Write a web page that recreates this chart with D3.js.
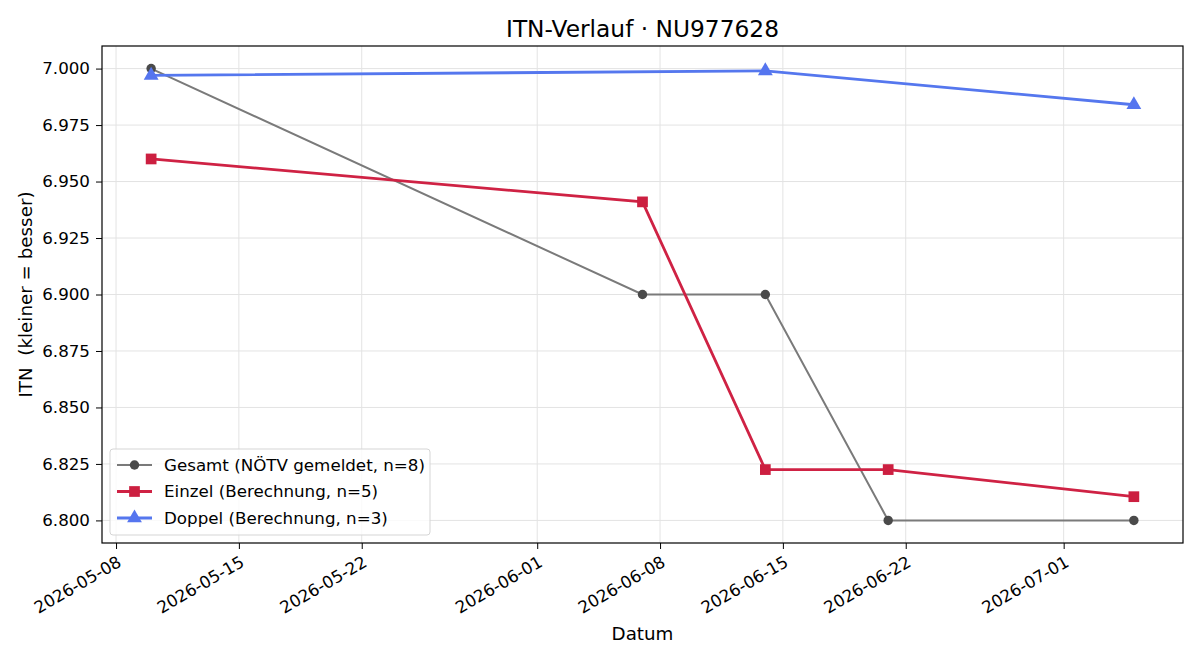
<!DOCTYPE html>
<html>
<head>
<meta charset="utf-8">
<script src="https://cdn.jsdelivr.net/npm/d3@7"></script>
<style>
  body { margin: 0; background: #fff; }
  text { font-family: "DejaVu Sans", sans-serif; }
</style>
</head>
<body>
<div id="chart-area"></div>
<script>
// data
const dates = ["2026-05-10", "2026-06-07", "2026-06-14", "2026-06-21", "2026-07-05"];
const gesamt = [7.000, 6.900, 6.900, 6.800, 6.800];
const einzelDates = ["2026-05-10", "2026-06-07", "2026-06-14", "2026-06-21", "2026-07-05"];
const einzel = [6.960, 6.941, 6.8225, 6.8225, 6.8105];
const doppelDates = ["2026-05-10", "2026-06-14", "2026-07-05"];
const doppel = [6.997, 6.999, 6.984];
const xTicks = ["2026-05-08", "2026-05-15", "2026-05-22", "2026-06-01", "2026-06-08", "2026-06-15", "2026-06-22", "2026-07-01"];
const yTicks = [6.800, 6.825, 6.850, 6.875, 6.900, 6.925, 6.950, 6.975, 7.000];

const parse = d3.timeParse("%Y-%m-%d");
const fmt = d3.timeFormat("%Y-%m-%d");

let margin = {left: 102, right: 17, top: 46, bottom: 117};
let width = 1200 - margin.left - margin.right;
let height = 660 - margin.top - margin.bottom;

let svg = d3.select("#chart-area")
    .append("svg")
    .attr("width", 1200)
    .attr("height", 660);

let g = svg.append("g")
    .attr("transform", "translate(" + margin.left + "," + margin.top + ")");

// matplotlib-like 5% margins
let x0 = parse("2026-05-10"), x1 = parse("2026-07-05");
let span = x1 - x0;
let x = d3.scaleTime()
    .domain([new Date(+x0 - span * 0.05), new Date(+x1 + span * 0.05)])
    .range([0, width]);
let y = d3.scaleLinear()
    .domain([6.79, 7.01])
    .range([height, 0]);

// grid
g.append("g").selectAll("line")
    .data(xTicks.map(parse))
    .enter().append("line")
    .attr("x1", d => x(d)).attr("x2", d => x(d))
    .attr("y1", 0).attr("y2", height)
    .attr("stroke", "#e3e3e3").attr("stroke-width", 1);
g.append("g").selectAll("line")
    .data(yTicks)
    .enter().append("line")
    .attr("y1", d => y(d)).attr("y2", d => y(d))
    .attr("x1", 0).attr("x2", width)
    .attr("stroke", "#e3e3e3").attr("stroke-width", 1);

// x axis
let xAxis = d3.axisBottom(x)
    .tickValues(xTicks.map(parse))
    .tickFormat(fmt)
    .tickSize(6)
    .tickPadding(6);
let xg = g.append("g")
    .attr("class", "x axis")
    .attr("transform", "translate(0," + height + ")")
    .call(xAxis);
xg.select(".domain").remove();
xg.selectAll("line").attr("stroke", "#000");
xg.selectAll("text")
    .attr("font-size", "16.7px")
    .attr("fill", "#000")
    .attr("text-anchor", "end")
    .attr("y", 0)
    .attr("dy", "0.72em")
    .attr("transform", "translate(0,12) rotate(-30)");

// y axis
let yAxis = d3.axisLeft(y)
    .tickValues(yTicks)
    .tickFormat(d3.format(".3f"))
    .tickSize(6)
    .tickPadding(6);
let yg = g.append("g")
    .attr("class", "y axis")
    .call(yAxis);
yg.select(".domain").remove();
yg.selectAll("line").attr("stroke", "#000");
yg.selectAll("text").attr("font-size", "16.7px").attr("fill", "#000");

// frame
g.append("rect")
    .attr("width", width).attr("height", height)
    .attr("fill", "none").attr("stroke", "#000").attr("stroke-width", 1.2);

// labels
svg.append("text")
    .text("ITN-Verlauf · NU977628")
    .attr("x", margin.left + width / 2)
    .attr("y", 37)
    .attr("text-anchor", "middle")
    .attr("font-size", "23.3px");
svg.append("text")
    .text("Datum")
    .attr("x", margin.left + width / 2)
    .attr("y", 640)
    .attr("text-anchor", "middle")
    .attr("font-size", "18.3px");
svg.append("text")
    .text("ITN  (kleiner = besser)")
    .style("white-space", "pre")
    .attr("transform", "translate(32," + (margin.top + height / 2) + ") rotate(-90)")
    .attr("text-anchor", "middle")
    .attr("font-size", "18.3px");

// series
let series = [
    {name: "Gesamt (NÖTV gemeldet, n=8)", d: dates, v: gesamt, line: "#7a7a7a", mark: "#4a4a4a", lw: 2, sym: d3.symbolCircle, size: 70},
    {name: "Einzel (Berechnung, n=5)", d: einzelDates, v: einzel, line: "#cf2244", mark: "#cc1f40", lw: 2.8, sym: d3.symbolSquare, size: 115},
    {name: "Doppel (Berechnung, n=3)", d: doppelDates, v: doppel, line: "#5577ee", mark: "#5575ef", lw: 2.8, sym: d3.symbolTriangle, size: 95}
];

let line = d3.line().x(p => x(p[0])).y(p => y(p[1]));

series.forEach(function(s) {
    let pts = s.d.map((dd, i) => [parse(dd), s.v[i]]);
    g.append("path")
        .datum(pts)
        .attr("d", line)
        .attr("fill", "none")
        .attr("stroke", s.line)
        .attr("stroke-width", s.lw);
    g.selectAll(null)
        .data(pts)
        .enter().append("path")
        .attr("d", d3.symbol().type(s.sym).size(s.size))
        .attr("transform", p => "translate(" + x(p[0]) + "," + y(p[1]) + ")")
        .attr("fill", s.mark);
});

// legend
let lg = svg.append("g").attr("transform", "translate(110,449)");
lg.append("rect")
    .attr("width", 320).attr("height", 86)
    .attr("rx", 3)
    .attr("fill", "#fff").attr("fill-opacity", 0.8)
    .attr("stroke", "#d5d5d5");
series.forEach(function(s, i) {
    let yy = 16 + i * 26.5;
    lg.append("line")
        .attr("x1", 7).attr("x2", 42)
        .attr("y1", yy).attr("y2", yy)
        .attr("stroke", s.line).attr("stroke-width", s.lw);
    lg.append("path")
        .attr("d", d3.symbol().type(s.sym).size(s.size))
        .attr("transform", "translate(24.5," + yy + ")")
        .attr("fill", s.mark);
    lg.append("text")
        .text(s.name)
        .attr("x", 54).attr("y", yy)
        .attr("dy", "0.35em")
        .attr("font-size", "16.7px");
});
</script>
</body>
</html>
